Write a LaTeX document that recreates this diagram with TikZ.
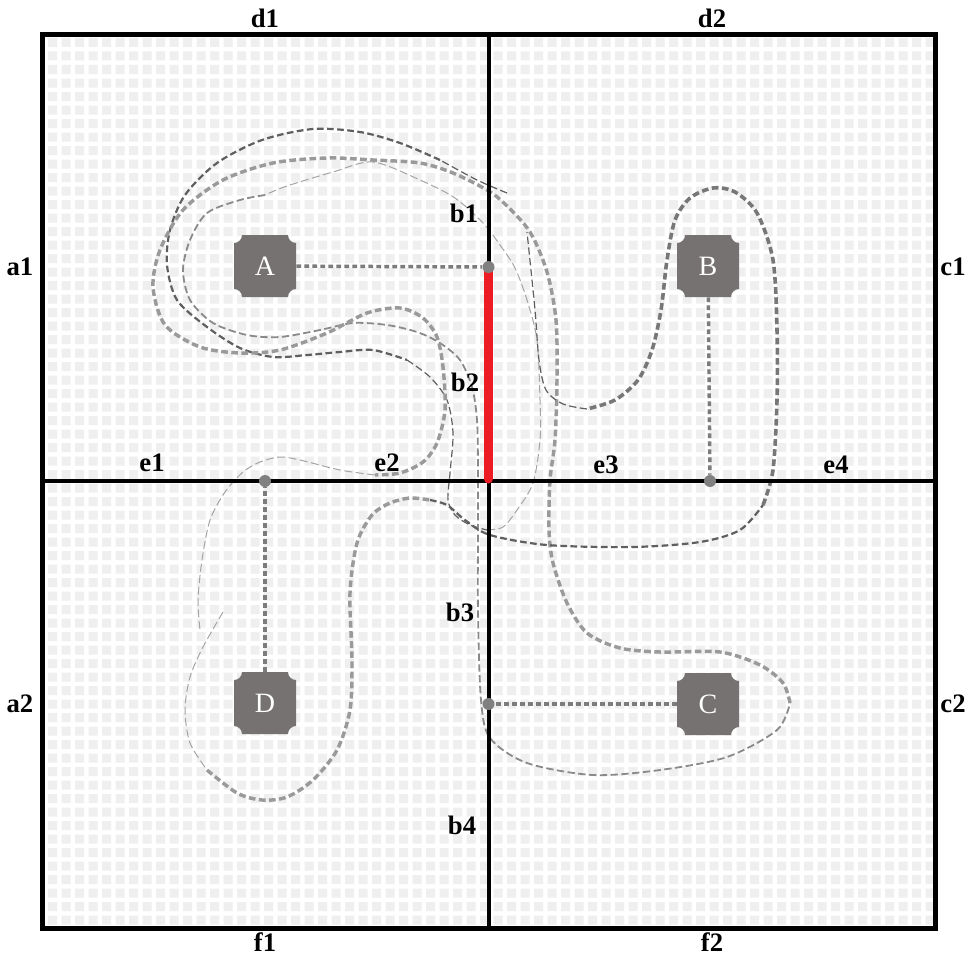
\documentclass[tikz,border=0pt]{standalone}
\usepackage{fontspec}
\setmainfont{Liberation Serif}
\definecolor{gridc}{HTML}{EFEFEF}
\definecolor{nodegray}{HTML}{767272}
\definecolor{dotgray}{HTML}{808080}
\definecolor{conngray}{HTML}{7C7C7C}
\definecolor{cdarkc}{HTML}{5F5F5F}
\definecolor{cthickc}{HTML}{9A9A9A}
\definecolor{cmedc}{HTML}{8A8A8A}
\definecolor{cthinc}{HTML}{A4A4A4}
\definecolor{redline}{HTML}{ED1C24}
\tikzset{
  lbl/.style={font=\bfseries\fontsize{20}{20}\selectfont, inner sep=0pt},
  boxtext/.style={font=\fontsize{21}{21}\selectfont, text=white, minimum size=46.5pt, inner sep=0pt},
  dotnode/.style={circle, fill=dotgray, minimum size=9pt, inner sep=0pt},
  conn/.style={draw=conngray, line width=2.6pt, dash pattern=on 3.6pt off 2.4pt},
  cdark/.style={draw=cdarkc, line width=1.65pt, dash pattern=on 5pt off 2.6pt},
  cdarkthin/.style={draw=cdarkc, line width=0.9pt, dash pattern=on 5.5pt off 2.6pt},
  cdarkthick/.style={draw=cdarkc!85!white, line width=2.7pt, dash pattern=on 5pt off 2.6pt},
  cthick/.style={draw=cthickc, line width=2.6pt, dash pattern=on 5pt off 2.6pt},
  cmed/.style={draw=cmedc, line width=1.35pt, dash pattern=on 5.5pt off 2.6pt},
  cthin/.style={draw=cthinc, line width=0.75pt, dash pattern=on 6pt off 2.6pt},
}
\newcommand\notchbox[1]{%
  \begin{scope}[shift={(#1)}]
  \fill[nodegray] (-23,-31) -- (23,-31) .. controls (23,-26.6) and (26.6,-23) .. (31,-23)
   -- (31,23) .. controls (26.6,23) and (23,26.6) .. (23,31)
   -- (-23,31) .. controls (-23,26.6) and (-26.6,23) .. (-31,23)
   -- (-31,-23) .. controls (-26.6,-23) and (-23,-26.6) .. (-23,-31) -- cycle;
  \end{scope}}
\begin{document}
\begin{tikzpicture}[x=0.75pt,y=-0.75pt]
\useasboundingbox (0,0) rectangle (969,956);
\fill[white] (0,0) rectangle (969,956);
% grid
\fill[gridc] \foreach \i in {0,...,65} { \foreach \j in {0,...,65} { (48+13.5*\i,38+13.5*\j) rectangle ++(9,9) } };
% curves
\draw[cdarkthin] plot[smooth] coordinates {(507,193) (477,180) (440,160)};
\draw[cdark] plot[smooth] coordinates {(440,160) (400,143) (360,132) (313,129) (262,140) (217,163) (185,195) (170,230) (167,265) (177,300) (207,327) (240,348) (273,357) (307,355) (340,352) (373,350) (407,360)};
\draw[cdarkthin] plot[smooth] coordinates {(407,360) (430,377) (447,400) (453,433) (450,473) (448,500) (455,515) (470,525) (487,530)};
\draw[cthin] plot[smooth] coordinates {(487,530) (503,527) (517,510) (533,483) (540,440) (540,400) (537,340) (527,300) (515,268) (500,245) (483,223) (455,198) (420,180) (373,162) (333,172) (287,186) (265,195)};
\draw[cmed] plot[smooth] coordinates {(265,195) (240,200) (207,213) (190,240) (183,270) (190,300) (213,323) (247,335) (280,337) (320,330) (353,323) (387,325) (417,332) (440,343) (460,360) (472,387) (477,420) (478,470) (478,530) (478,613) (481,700) (490,738) (527,763) (593,775) (660,770) (727,757) (777,730) (790,703)};
\draw[cthick] plot[smooth] coordinates {(790,703) (783,683) (760,665) (720,652) (660,652) (620,648) (587,633) (567,603) (553,563) (549,530) (550,480) (555,440) (557,380) (556,320) (547,272) (530,232) (505,204) (487,190) (453,173) (420,163) (373,160) (327,158) (273,163) (223,180) (183,210) (160,250) (153,287) (165,325) (200,347) (240,353) (280,350) (327,333) (367,313) (400,308) (423,318) (437,337) (443,367) (445,410) (437,443) (423,462) (400,473) (375,475)};
\draw[cthin] plot[smooth] coordinates {(375,475) (340,470) (300,460) (280,457) (260,462) (243,472) (225,492) (210,520) (202,560) (198,600) (200,630)};
\draw[cthin] plot[smooth] coordinates {(223,612) (203,647) (190,677) (185,710) (190,743) (207,770)};
\draw[cthick] plot[smooth] coordinates {(207,770) (237,793) (262,800) (287,797) (313,780) (337,750) (350,710) (352,660) (350,593) (357,543) (372,515) (390,503) (410,498) (430,500)};
\draw[cdark] plot[smooth] coordinates {(430,500) (447,505) (465,520) (490,535) (547,545) (633,547) (700,542) (740,530) (763,505)};
\draw[cdarkthick] plot[smooth] coordinates {(763,505) (773,470) (777,400) (777,330) (773,260) (757,213) (735,192) (713,188) (690,198) (675,220) (667,260) (661,310) (652,350) (638,380) (615,400) (587,409)};
\draw[cdarkthin] plot[smooth] coordinates {(587,409) (563,404) (546,390) (539,360) (535,310) (527,232)};
% frame
\draw[line width=3.75pt] (42.5,35) rectangle (935,928);
\draw[line width=3pt] (488.5,35) -- (488.5,928);
\draw[line width=3pt] (42.5,481) -- (935,481);
\draw[redline, line width=6.75pt, line cap=round] (488.5,270) -- (488.5,479);
% nodes
\notchbox{265,266}
\notchbox{708,266}
\notchbox{708,704}
\notchbox{265,703}
\node[boxtext] (A) at (265,266) {A};
\node[boxtext] (B) at (708,266) {B};
\node[boxtext] (C) at (708,704) {C};
\node[boxtext] (D) at (265,703) {D};
\node[dotnode] (pA) at (488.5,267) {};
\node[dotnode] (pB) at (710,481) {};
\node[dotnode] (pC) at (488.5,704) {};
\node[dotnode] (pD) at (265,481) {};
\draw[conn] (A) -- (pA);
\draw[conn] (B) -- (pB);
\draw[conn] (C) -- (pC);
\draw[conn] (D) -- (pD);
% labels
\node[lbl] (ld1) at (265,18) {d1};
\node[lbl] (ld2) at (712,18) {d2};
\node[lbl] (la1) at (20,267) {a1};
\node[lbl] (lc1) at (953,267) {c1};
\node[lbl] (la2) at (20,704) {a2};
\node[lbl] (lc2) at (953,704) {c2};
\node[lbl] (lf1) at (265,942) {f1};
\node[lbl] (lf2) at (712,942) {f2};
\node[lbl] (le1) at (152,463) {e1};
\node[lbl] (le2) at (387,463) {e2};
\node[lbl] (le3) at (606,465) {e3};
\node[lbl] (le4) at (836,465) {e4};
\node[lbl] (lb1) at (464,213) {b1};
\node[lbl] (lb2) at (465,382) {b2};
\node[lbl] (lb3) at (460,612) {b3};
\node[lbl] (lb4) at (462,825) {b4};
\end{tikzpicture}
\end{document}
